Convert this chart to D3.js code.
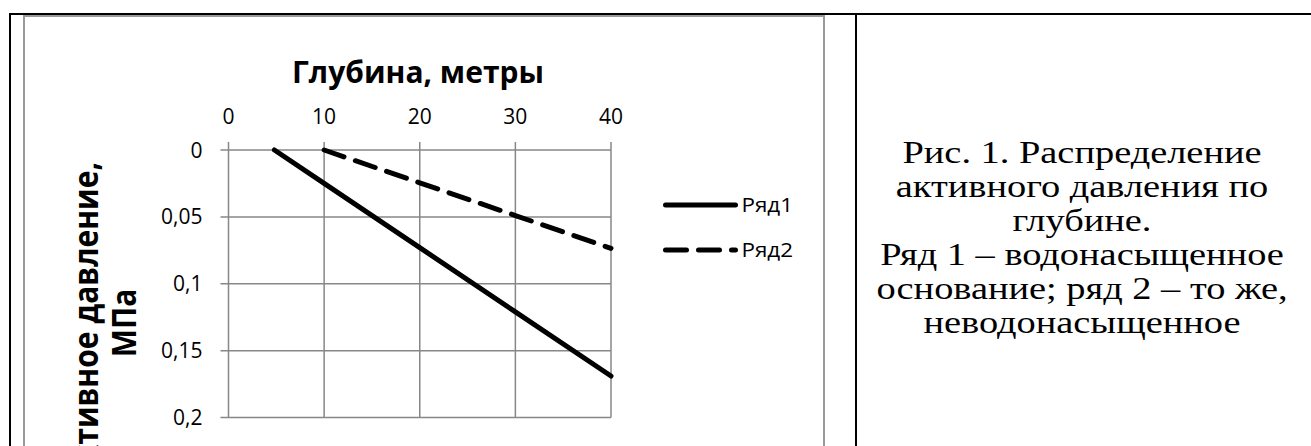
<!DOCTYPE html>
<html>
<head>
<meta charset="utf-8">
<script src="https://cdn.jsdelivr.net/npm/d3@7"></script>
<style>
  html, body { margin: 0; padding: 0; background: #fff; overflow: hidden; }
  .tick-label { font-family: "Open Sans", sans-serif; font-size: 21px; fill: #000; }
  .axis-title { font-family: "Open Sans", sans-serif; font-weight: bold; fill: #000; }
  .legend-label { font-family: "Open Sans", sans-serif; font-size: 20px; fill: #000; }
  .caption { font-family: "Liberation Serif", "Times New Roman", serif; font-size: 32px; fill: #000; }
</style>
</head>
<body>
<div id="wrapper"></div>
<script>
// data
const depth1 = [4.8, 10, 20, 30, 40]
const row1 = [0, 0.025, 0.073, 0.121, 0.169]
const depth2 = [10, 20, 30, 40]
const row2 = [0, 0.0245, 0.049, 0.0735]

const seriesNames = ["Ряд1", "Ряд2"]
const xTicks = [0, 10, 20, 30, 40]
const yTicks = [0, 0.05, 0.1, 0.15, 0.2]

const xTitle = "Глубина, метры"
const yTitleLines = ["Активное давление,", "МПа"]
const captionLines = [
  "Рис. 1. Распределение",
  "активного давления по",
  "глубине.",
  "Ряд 1 – водонасыщенное",
  "основание; ряд 2 – то же,",
  "неводонасыщенное"
]

function drawChart() {
  const width = 1311
  const height = 446

  // plot area inside the chart frame
  const plot = { left: 228.5, right: 611, top: 150, bottom: 417.5 }

  const svg = d3.select("#wrapper")
    .append("svg")
      .attr("width", width)
      .attr("height", height)

  // document table lines
  svg.append("line")
    .attr("x1", 9).attr("x2", width).attr("y1", 14).attr("y2", 14)
    .attr("stroke", "#000").attr("stroke-width", 2)
  svg.append("line")
    .attr("x1", 10).attr("x2", 10).attr("y1", 13).attr("y2", height)
    .attr("stroke", "#000").attr("stroke-width", 2)
  svg.append("line")
    .attr("x1", 856).attr("x2", 856).attr("y1", 13).attr("y2", height)
    .attr("stroke", "#000").attr("stroke-width", 2)

  // chart frame (bottom edge is cut off by the page)
  svg.append("rect")
    .attr("x", 24).attr("y", 16)
    .attr("width", 800).attr("height", 460)
    .attr("fill", "none")
    .attr("stroke", "#9a9a9a")
    .attr("stroke-width", 2)

  // scales
  const xScale = d3.scaleLinear()
    .domain([0, 40])
    .range([plot.left, plot.right])

  const yScale = d3.scaleLinear()
    .domain([0, 0.2])
    .range([plot.top, plot.bottom])

  const fmt = d => d3.format("")(d).replace(".", ",")

  // gridlines + ticks
  const grid = svg.append("g")
    .attr("stroke", "#878787")
    .attr("stroke-width", 1.5)

  grid.selectAll(".vgrid")
    .data(xTicks)
    .join("line")
      .attr("class", "vgrid")
      .attr("x1", d => xScale(d)).attr("x2", d => xScale(d))
      .attr("y1", yScale(0) - 8).attr("y2", yScale(0.2))

  grid.selectAll(".hgrid")
    .data(yTicks)
    .join("line")
      .attr("class", "hgrid")
      .attr("x1", xScale(0) - 8).attr("x2", xScale(40))
      .attr("y1", d => yScale(d)).attr("y2", d => yScale(d))

  // tick labels
  svg.selectAll(".x-label")
    .data(xTicks)
    .join("text")
      .attr("class", "tick-label x-label")
      .attr("x", d => xScale(d))
      .attr("y", yScale(0) - 26)
      .attr("text-anchor", "middle")
      .text(d => d)

  svg.selectAll(".y-label")
    .data(yTicks)
    .join("text")
      .attr("class", "tick-label y-label")
      .attr("x", xScale(0) - 26)
      .attr("y", d => yScale(d))
      .attr("dy", "0.36em")
      .attr("text-anchor", "end")
      .text(fmt)

  // axis titles
  svg.append("text")
    .attr("class", "axis-title")
    .attr("x", 418)
    .attr("y", 83)
    .attr("text-anchor", "middle")
    .style("font-size", "30px")
    .text(xTitle)

  const yTitle = svg.append("g")
  yTitle.selectAll("text")
    .data(yTitleLines)
    .join("text")
      .attr("class", "axis-title")
      .attr("transform", (d, i) => `translate(${i ? 136 : 98},323) scale(1.15,1) rotate(-90)`)
      .attr("text-anchor", "middle")
      .style("font-size", "30px")
      .text(d => d)

  // series
  const lineGen = d3.line()
    .x(d => xScale(d[0]))
    .y(d => yScale(d[1]))

  const series = [
    { name: seriesNames[0], points: d3.zip(depth1, row1), dash: null },
    { name: seriesNames[1], points: d3.zip(depth2, row2), dash: "21,12" }
  ]

  svg.selectAll(".series")
    .data(series)
    .join("path")
      .attr("class", "series")
      .attr("d", d => lineGen(d.points))
      .attr("fill", "none")
      .attr("stroke", "#000")
      .attr("stroke-width", 5)
      .attr("stroke-linecap", "round")
      .attr("stroke-dasharray", d => d.dash)

  // legend
  const legend = svg.append("g")
    .attr("transform", "translate(665.5,205)")

  const items = legend.selectAll("g")
    .data(series)
    .join("g")
      .attr("transform", (d, i) => `translate(0,${i * 45})`)

  items.append("line")
    .attr("x1", 0).attr("x2", 70)
    .attr("stroke", "#000")
    .attr("stroke-width", 5)
    .attr("stroke-linecap", "round")
    .attr("stroke-dasharray", d => d.dash)

  items.append("text")
    .attr("class", "legend-label")
    .attr("transform", "translate(76,0) scale(1.12,1)")
    .attr("dy", "0.36em")
    .text(d => d.name)

  // caption on the right
  svg.selectAll(".caption")
    .data(captionLines)
    .join("text")
      .attr("class", "caption")
      .attr("transform", (d, i) => `translate(1082,${163 + i * 34}) scale(1.2,1)`)
      .attr("text-anchor", "middle")
      .text(d => d)
}
drawChart()
</script>
</body>
</html>
